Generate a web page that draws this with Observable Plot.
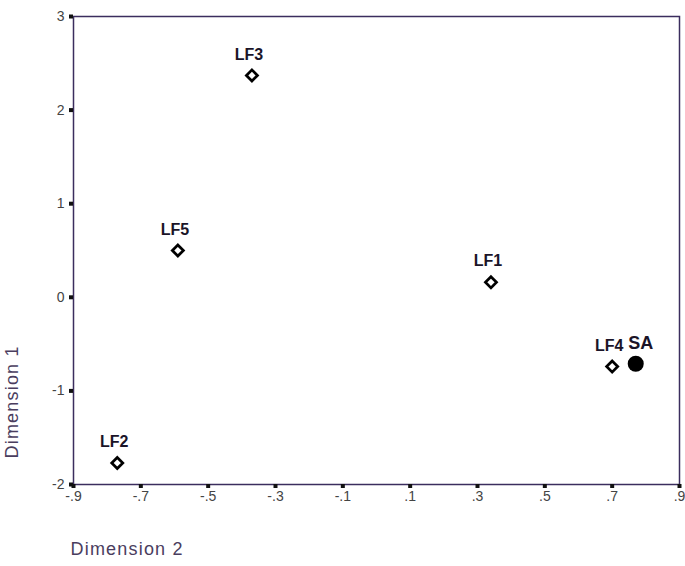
<!DOCTYPE html>
<html>
<head>
<meta charset="utf-8">
<script src="https://cdn.jsdelivr.net/npm/d3@7"></script>
<script src="https://cdn.jsdelivr.net/npm/@observablehq/plot@0.6"></script>
<style>
  html, body { margin: 0; padding: 0; background: #fff; }
  #chart { width: 685px; height: 566px; }
  .ttl text { letter-spacing: 1.2px; }
</style>
</head>
<body>
<div id="chart"></div>
<script>
const labels = ["LF1", "LF2", "LF3", "LF4", "LF5", "SA"];
const dim2 = [0.34, -0.77, -0.37, 0.70, -0.59, 0.77];
const dim1 = [0.16, -1.77, 2.37, -0.74, 0.50, -0.71];
const groups = ["LF", "LF", "LF", "LF", "LF", "SA"];
const xTicks = [-0.9, -0.7, -0.5, -0.3, -0.1, 0.1, 0.3, 0.5, 0.7, 0.9];
const yTicks = [-2, -1, 0, 1, 2, 3];
const xTitle = "Dimension 2";
const yTitle = "Dimension 1";

const data = labels.map((label, i) => ({label, x: dim2[i], y: dim1[i], group: groups[i]}));
const lf = data.filter(d => d.group === "LF");
const sa = data.filter(d => d.group === "SA");
const fmtX = d => d.toFixed(1).replace("0.", ".");
const fmtY = d => String(d);

const chart = Plot.plot({
  width: 685,
  height: 566,
  marginLeft: 73,
  marginRight: 6,
  marginTop: 16,
  marginBottom: 82,
  style: {fontFamily: "'Liberation Sans', Arial, sans-serif", background: "#fff"},
  x: {domain: [-0.9, 0.9]},
  y: {domain: [-2, 3]},
  marks: [
    Plot.frame({stroke: "#3b2d5e", strokeWidth: 1.5}),
    Plot.axisX(xTicks, {tickSize: 4, strokeWidth: 4, stroke: "#111", fill: "#444", tickFormat: fmtX, tickPadding: 3, fontSize: 14, label: null}),
    Plot.axisY(yTicks, {tickSize: 4, strokeWidth: 4, stroke: "#111", fill: "#444", tickFormat: fmtY, tickPadding: 5, fontSize: 14, label: null}),
    Plot.text([xTitle], {className: "ttl", frameAnchor: "bottom-left", dx: -3, dy: 70, textAnchor: "start", fontSize: 18, fill: "#4a3d5e"}),
    Plot.text([yTitle], {className: "ttl", frameAnchor: "bottom-left", dx: -56, dy: -26, rotate: -90, textAnchor: "start", fontSize: 18, fill: "#4a3d5e"}),
    Plot.dot(lf, {x: "x", y: "y", symbol: "diamond2", r: 5, stroke: "#000", strokeWidth: 2.7, fill: "#fff"}),
    Plot.dot(sa, {x: "x", y: "y", symbol: "circle", r: 8, fill: "#000"}),
    Plot.text(lf, {x: "x", y: "y", text: "label", dx: -3, dy: -21, fontSize: 16, fontWeight: "bold", fill: "#1a1428"}),
    Plot.text(sa, {x: "x", y: "y", text: "label", dx: 5, dy: -21, fontSize: 18, fontWeight: "bold", fill: "#1a1428"})
  ]
});
document.getElementById("chart").appendChild(chart);
</script>
</body>
</html>
